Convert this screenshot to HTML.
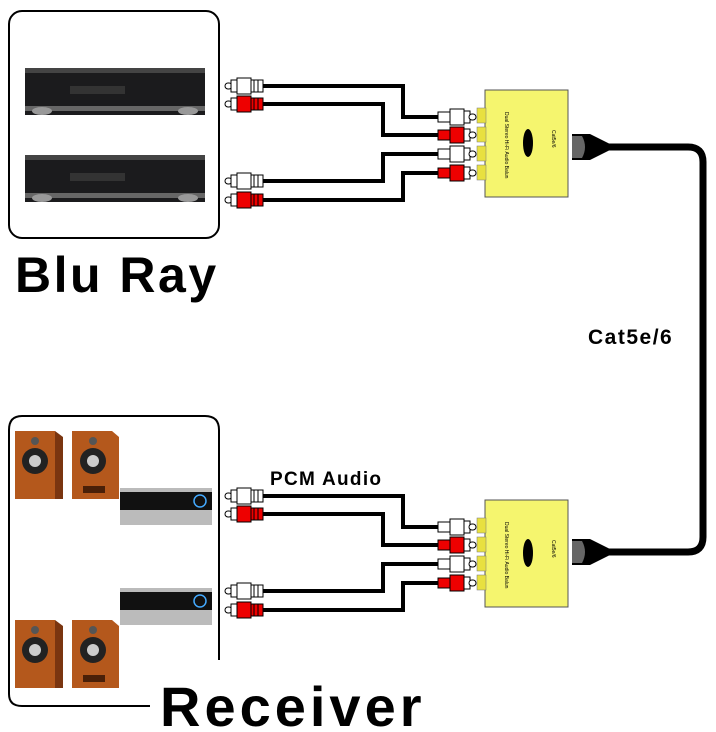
<!DOCTYPE html>
<html><head><meta charset="utf-8"><style>html,body{margin:0;padding:0;background:#fff}svg{display:block}</style></head><body>
<svg width="716" height="732" viewBox="0 0 716 732" xmlns="http://www.w3.org/2000/svg" font-family="Liberation Sans, Arial, sans-serif">
<defs>
 <g id="pw"><rect x="0" y="-3" width="7" height="6" rx="3" fill="#fff" stroke="#000" stroke-width="1"/><rect x="6" y="-6" width="6" height="12" fill="#fff" stroke="#000"/><rect x="12" y="-8" width="14" height="16" fill="#fff" stroke="#000"/><rect x="26" y="-6" width="12" height="12" fill="#fff" stroke="#000"/><line x1="29" y1="-6" x2="29" y2="6" stroke="#000"/><line x1="33" y1="-6" x2="33" y2="6" stroke="#000"/></g>
 <g id="pr"><rect x="0" y="-3" width="7" height="6" rx="3" fill="#fff" stroke="#000" stroke-width="1"/><rect x="6" y="-6" width="6" height="12" fill="#fff" stroke="#000"/><rect x="12" y="-8" width="14" height="16" fill="#e00" stroke="#000"/><rect x="26" y="-6" width="12" height="12" fill="#e00" stroke="#000"/><line x1="29" y1="-6" x2="29" y2="6" stroke="#000"/><line x1="33" y1="-6" x2="33" y2="6" stroke="#000"/></g>
 <g id="qw"><rect x="6" y="-5" width="12" height="10" fill="#fff" stroke="#000"/><rect x="18" y="-8" width="14" height="16" fill="#fff" stroke="#000"/><rect x="32" y="-6" width="6" height="12" fill="#fff" stroke="#000"/><rect x="37" y="-3" width="7" height="6" rx="3" fill="#fff" stroke="#000"/></g>
 <g id="qr"><rect x="6" y="-5" width="12" height="10" fill="#e00" stroke="#000"/><rect x="18" y="-8" width="14" height="16" fill="#e00" stroke="#000"/><rect x="32" y="-6" width="6" height="12" fill="#fff" stroke="#000"/><rect x="37" y="-3" width="7" height="6" rx="3" fill="#fff" stroke="#000"/></g>
 <g id="adp">
  <rect x="485" y="0" width="83" height="107" fill="#f5f56e" stroke="#555" stroke-width="1"/>
  <rect x="477" y="18" width="9" height="15" fill="#e8e040" stroke="#777" stroke-width=".5"/>
  <rect x="477" y="37" width="9" height="15" fill="#e8e040" stroke="#777" stroke-width=".5"/>
  <rect x="477" y="56" width="9" height="15" fill="#e8e040" stroke="#777" stroke-width=".5"/>
  <rect x="477" y="75" width="9" height="15" fill="#e8e040" stroke="#777" stroke-width=".5"/>
  <ellipse cx="528" cy="53" rx="5" ry="14" fill="#000"/>
  <text x="0" y="0" font-size="5" transform="translate(505,22) rotate(90)">Dual Stereo Hi-Fi Audio Balun</text>
  <text x="0" y="0" font-size="5" transform="translate(552,40) rotate(90)">Cat5e/6</text>
  <use href="#qw" x="432" y="27"/><use href="#qr" x="432" y="45"/><use href="#qw" x="432" y="64"/><use href="#qr" x="432" y="83"/>
 </g>
 <g id="bd"><rect x="0" y="0" width="180" height="47" fill="#1b1b1d"/><rect x="0" y="0" width="180" height="5" fill="#444"/><rect x="0" y="38" width="180" height="5" fill="#666"/><ellipse cx="17" cy="43" rx="10" ry="4" fill="#999"/><ellipse cx="163" cy="43" rx="10" ry="4" fill="#999"/><rect x="45" y="18" width="55" height="8" fill="#333"/></g>
 <g id="spk"><path d="M0 0 L40 0 L48 68 L0 68Z" fill="#b4581c"/><path d="M40 0 L48 6 L48 68 L40 68Z" fill="#7a3510"/><circle cx="20" cy="30" r="13" fill="#222"/><circle cx="20" cy="30" r="6" fill="#ccc"/><circle cx="20" cy="10" r="4" fill="#555"/><path d="M57 0 L97 0 L104 6 L104 68 L57 68Z" fill="#b4581c"/><circle cx="78" cy="30" r="13" fill="#222"/><circle cx="78" cy="30" r="6" fill="#ccc"/><circle cx="78" cy="10" r="4" fill="#555"/><rect x="68" y="55" width="22" height="7" fill="#4a2008"/></g>
 <g id="rcv"><rect x="0" y="0" width="92" height="37" fill="#bbb"/><rect x="0" y="4" width="92" height="18" fill="#111"/><circle cx="80" cy="13" r="6" fill="none" stroke="#4af" stroke-width="1.5"/></g>
</defs>

<rect x="9" y="11" width="210" height="227" rx="13" fill="none" stroke="#000" stroke-width="2"/>
<use href="#bd" x="25" y="68"/><use href="#bd" x="25" y="155"/>
<text x="15" y="292" font-size="50" font-weight="bold" letter-spacing="2.5">Blu Ray</text>

<path d="M219 660 V430 Q219 416 205 416 H22 Q9 416 9 430 V694 Q9 706 22 706 H150" fill="none" stroke="#000" stroke-width="2"/>
<use href="#spk" x="15" y="431"/><use href="#spk" x="15" y="620"/>
<use href="#rcv" x="120" y="488"/><use href="#rcv" x="120" y="588"/>
<text x="160" y="726" font-size="56" font-weight="bold" letter-spacing="4">Receiver</text>

<g fill="none" stroke="#000" stroke-width="4">
 <path d="M262 86 H403 V117 H440"/><path d="M262 104 H383 V135 H440"/>
 <path d="M262 181 H383 V154 H440"/><path d="M262 200 H403 V173 H440"/>
 <path d="M262 496 H403 V527 H440"/><path d="M262 514 H383 V545 H440"/>
 <path d="M262 591 H383 V564 H440"/><path d="M262 610 H403 V583 H440"/>
</g>
<use href="#pw" x="225" y="86"/><use href="#pr" x="225" y="104"/><use href="#pw" x="225" y="181"/><use href="#pr" x="225" y="200"/>
<use href="#pw" x="225" y="496"/><use href="#pr" x="225" y="514"/><use href="#pw" x="225" y="591"/><use href="#pr" x="225" y="610"/>

<use href="#adp" x="0" y="90"/><use href="#adp" x="0" y="500"/>

<path d="M605 147 H688 Q703 147 703 162 V537 Q703 552 688 552 H605" fill="none" stroke="#000" stroke-width="7"/>
<g><path d="M572 134 H590 L610 144 V150 L590 160 H572Z" fill="#000"/><path d="M572 136 H582 Q588 147 582 158 H572Z" fill="#666"/></g>
<g><path d="M572 539 H590 L610 549 V555 L590 565 H572Z" fill="#000"/><path d="M572 541 H582 Q588 552 582 563 H572Z" fill="#666"/></g>

<text x="588" y="344" font-size="21" font-weight="bold" letter-spacing="1.5">Cat5e/6</text>
<text x="270" y="485" font-size="19" font-weight="bold" letter-spacing="1.3">PCM Audio</text>
</svg>
</body></html>
